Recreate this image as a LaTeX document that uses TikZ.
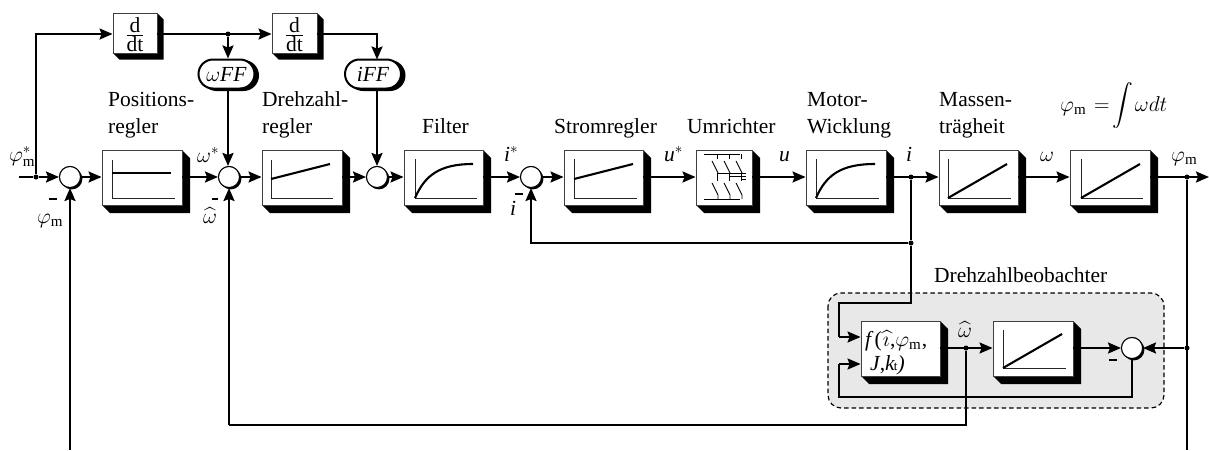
\RequirePackage{fix-cm}
\documentclass[tikz,border=0pt]{standalone}
\usepackage{exscale}
\usepackage{fontspec}
\setmainfont{Liberation Serif}
\usetikzlibrary{arrows.meta,shapes.misc}
\newcommand{\blk}[6]{%
  \pgfmathsetmacro{\bkw}{#4-#2}\pgfmathsetmacro{\bkh}{#5-#3}%
  \pgfmathsetmacro{\bkx}{(#2+#4)/2}\pgfmathsetmacro{\bky}{(#3+#5)/2}%
  \fill[black] (#2,#5) -- ({#2+#6},{#5+#6}) -- ({#4+#6},{#5+#6}) -- ({#4+#6},{#3+#6}) -- (#4,#3) -- cycle;
  \node[blockbox,minimum width=\bkw pt,minimum height=\bkh pt] (#1) at (\bkx,\bky) {};}
\newcommand{\sumj}[3]{%
  \fill[black] ({#2+1.8},{#3+1.8}) circle[radius=10.6pt];
  \node[sumnode] (#1) at (#2,#3) {};}
\newcommand{\axes}[4]{% x, top, bottom, right
  \draw[axisline] (#1,#2) -- (#1,#3) -- (#4,#3);}
\newcommand{\lab}[3]{\node[txt] at (#1,#2) {#3};}
\newcommand{\fim}{$\varphi_{\mathrm{m}}$}
\newcommand{\hatw}{$\widehat{\omega}$}
\begin{document}
\begin{tikzpicture}[x=1pt,y=-1pt,
  blockbox/.style={draw=black!75,line width=0.9pt,fill=white,inner sep=0pt},
  sumnode/.style={circle,draw=black,line width=1pt,fill=white,minimum size=21pt,inner sep=0pt},
  pill/.style={rounded rectangle,draw=black,line width=2pt,fill=white,minimum width=56pt,minimum height=29pt,inner sep=0pt,font=\fontsize{21.5}{27}\selectfont},
  ddt/.style={font=\fontsize{21.5}{24}\selectfont,inner sep=0pt},
  txt/.style={anchor=base west,inner sep=0pt,font=\fontsize{21.5}{27}\selectfont},
  axisline/.style={line width=1pt,draw=black!85},
  curve/.style={line width=2.1pt},
  sig/.style={line width=2.1pt,-{Stealth[length=13pt,width=11pt,inset=2pt]}},
  wire/.style={line width=2.1pt},
  thin wire/.style={line width=0.9pt},
  dotnode/.style={circle,fill=black,minimum size=5pt,inner sep=0pt},
  minus/.style={line width=2.4pt}]
\useasboundingbox (0,0) rectangle (1209,450);
% observer background
\filldraw[fill=black!9,draw=black,line width=1.2pt,dash pattern=on 4.5pt off 3pt,rounded corners=13pt] (828,293) rectangle (1164,408);
% free ends
\coordinate (inL) at (19,177);
\coordinate (outR) at (1209,177);
\coordinate (botL) at (70,450);
\coordinate (botR) at (1187,450);
% blocks
\blk{top1}{113}{13}{157}{53}{6.5}
\blk{top2}{272}{13}{317}{53}{6.5}
\blk{b1}{102}{150}{182}{205}{8}
\blk{b2}{262}{150}{342}{205}{8}
\blk{b3}{404}{150}{483}{205}{8}
\blk{b4}{564}{150}{643}{205}{8}
\blk{b5}{696}{150}{752}{205}{8}
\blk{b6}{806}{150}{886}{205}{8}
\blk{b7}{939}{150}{1018}{205}{8}
\blk{b8}{1070}{150}{1150}{205}{8}
\blk{f}{861}{321}{940}{376}{8}
\blk{g}{993}{321}{1073}{376}{8}
% d/dt text
\node[ddt] at (135,34.5) {$\frac{\textstyle\mathrm{d}}{\textstyle\mathrm{dt}}$};
\node[ddt] at (294.5,34.5) {$\frac{\textstyle\mathrm{d}}{\textstyle\mathrm{dt}}$};
% pills
\node[pill,fill=black] at (230,75.5) {\phantom{x}};
\node[pill] (wff) at (226.5,74) {$\omega$\textit{FF}};
\node[pill,fill=black] at (376.5,75.5) {\phantom{x}};
\node[pill] (iff) at (373,74) {\textit{iFF}};
% sums
\sumj{s1}{70}{177}
\sumj{s2}{229}{177}
\sumj{s3}{377}{177}
\sumj{s4}{531}{177}
\sumj{s5}{1132}{348}
% junctions
\node[dotnode] (jin) at (36,177) {};
\node[dotnode] (jtop) at (228,34) {};
\node[dotnode] (ji) at (911,177) {};
\node[dotnode] (jib) at (911,243) {};
\node[dotnode] (jphi) at (1187,177) {};
\node[dotnode] (jphib) at (1187,348) {};
\node[dotnode] (jw) at (966,348) {};
% top path
\draw[sig] (jin) -- (36,34) -- (top1.west |- 0,34);
\draw[sig] (top1.east |- 0,34) -- (top2.west |- 0,34);
\draw[sig] (jtop) -- (jtop |- wff.north);
\draw[sig] (top2.east |- 0,34) -- (377,34) -- (377,59.5);
\draw[sig] (jtop |- wff.south) -- (s2.north -| jtop);
\draw[sig] (377,88.5) -- (s3.north);
% main path
\draw[wire] (inL) -- (jin);
\draw[sig] (jin) -- (s1);
\draw[sig] (s1) -- (b1.west |- s1);
\draw[sig] (b1.east |- s2) -- (s2);
\draw[sig] (s2) -- (b2.west |- s2);
\draw[sig] (b2.east |- s3) -- (s3);
\draw[sig] (s3) -- (b3.west |- s3);
\draw[sig] (b3.east |- s4) -- (s4);
\draw[sig] (s4) -- (b4.west |- s4);
\draw[sig] (b4.east |- s4) -- (b5.west |- s4);
\draw[sig] (b5.east |- s4) -- (b6.west |- s4);
\draw[sig] (b6.east |- s4) -- (b7.west |- s4);
\draw[sig] (b7.east |- s4) -- (b8.west |- s4);
\draw[sig] (b8.east |- s4) -- (outR);
% feedback
\draw[sig] (botL) -- (s1);
\draw[sig] (ji) -- (jib) -- (jib -| s4) -- (s4);
\draw[wire] (jib) -- (911,303) -- (839,303) -- (839,337);
\draw[sig] (839,337) -- (f.west |- 0,337);
\draw[wire] (s5) -- (1132,397) -- (839,397) -- (839,364);
\draw[sig] (839,364) -- (f.west |- 0,364);
\draw[sig] (f.east |- s5) -- (g.west |- s5);
\draw[sig] (g.east |- s5) -- (s5);
\draw[wire] (jphi) -- (botR);
\draw[sig] (jphib) -- (s5);
\draw[wire] (jw) -- (966,425) -- (229,425);
\draw[sig] (229,425) -- (s2);
% redraw sums on top of wires' start
\node[sumnode] at (s1) {};
\node[sumnode] at (s2) {};
\node[sumnode] at (s3) {};
\node[sumnode] at (s4) {};
\node[sumnode] at (s5) {};
% minus signs
\draw[minus] (49,199) -- (57,199);
\draw[minus] (212,199) -- (218,199);
\draw[minus] (515,194) -- (523,194);
\draw[minus] (1109,360) -- (1117,360);
% block contents
\axes{112}{160}{198}{175}
\draw[curve] (112,173) -- (171,173);
\axes{271}{160}{198}{333}
\draw[curve] (271,179) -- (330,164);
\axes{415}{159}{198}{477}
\draw[curve] (415,198) .. controls (425,175) and (440,164) .. (473,164);
\axes{574}{159}{198}{637}
\draw[curve] (574,179) -- (633,164);
\axes{816}{159}{198}{879}
\draw[curve] (816,198) .. controls (826,175) and (841,164) .. (875,164);
\axes{948}{159}{198}{1011}
\draw[curve] (948,198) -- (1007,164);
\axes{1081}{159}{198}{1143}
\draw[curve] (1081,198) -- (1140,164);
\axes{1003}{330}{368}{1066}
\draw[curve] (1003,368) -- (1062,334);
% converter symbol
\begin{scope}[thin wire]
\draw (704,154) -- (740,154);
\draw (704,199) -- (740,199);
\foreach \dx in {0,12,24} {
  \draw ({717+\dx},154) -- ({717+\dx},159);
  \draw ({712+\dx},161) -- ({718+\dx},173);
  \draw ({712+\dx},183) -- ({718+\dx},195) -- ({718+\dx},199);
  \draw ({717+\dx},173) -- ({717+\dx},181);
}
\draw (717,173) -- (746,173);
\draw (729,176) -- (746,176);
\draw (741,179) -- (746,179);
\end{scope}
% texts
\lab{108}{106}{Positions-}
\lab{108}{133}{regler}
\lab{262}{106}{Drehzahl-}
\lab{262}{133}{regler}
\lab{422}{133}{Filter}
\lab{554}{133}{Stromregler}
\lab{687}{133}{Umrichter}
\lab{807}{106}{Motor-}
\lab{807}{133}{Wicklung}
\lab{939}{106}{Massen-}
\lab{939}{133}{trägheit}
\lab{1060}{111}{$\varphi_{\mathrm{m}}$\hspace{8pt}$=$\hspace{3pt}$\displaystyle\int$\hspace{1.5pt}$\omega dt$}
\lab{934}{282}{Drehzahlbeobachter}
\lab{9}{161}{$\varphi_{\mathrm{m}}^{*}$}
\lab{37}{223}{\fim}
\lab{197}{162}{$\omega^{*}$}
\lab{203}{223}{\hatw}
\lab{504}{161}{\textit{i}$^{*}$}
\lab{510}{215}{\textit{i}}
\lab{664}{161}{\textit{u}$^{*}$}
\lab{779}{161}{\textit{u}}
\lab{906}{161}{\textit{i}}
\lab{1040}{161}{$\omega$}
\lab{1171}{161}{\fim}
\lab{958}{337}{\hatw}
\lab{865}{346}{\textit{f}\kern1pt(\kern1pt$\widehat{\imath}$\kern0.5pt,\kern0pt\fim\kern0.5pt,}
\lab{870}{370}{\textit{J},\textit{k}\kern-1pt{\fontsize{13}{13}\selectfont t}\textit{)}}
\end{tikzpicture}
\end{document}
